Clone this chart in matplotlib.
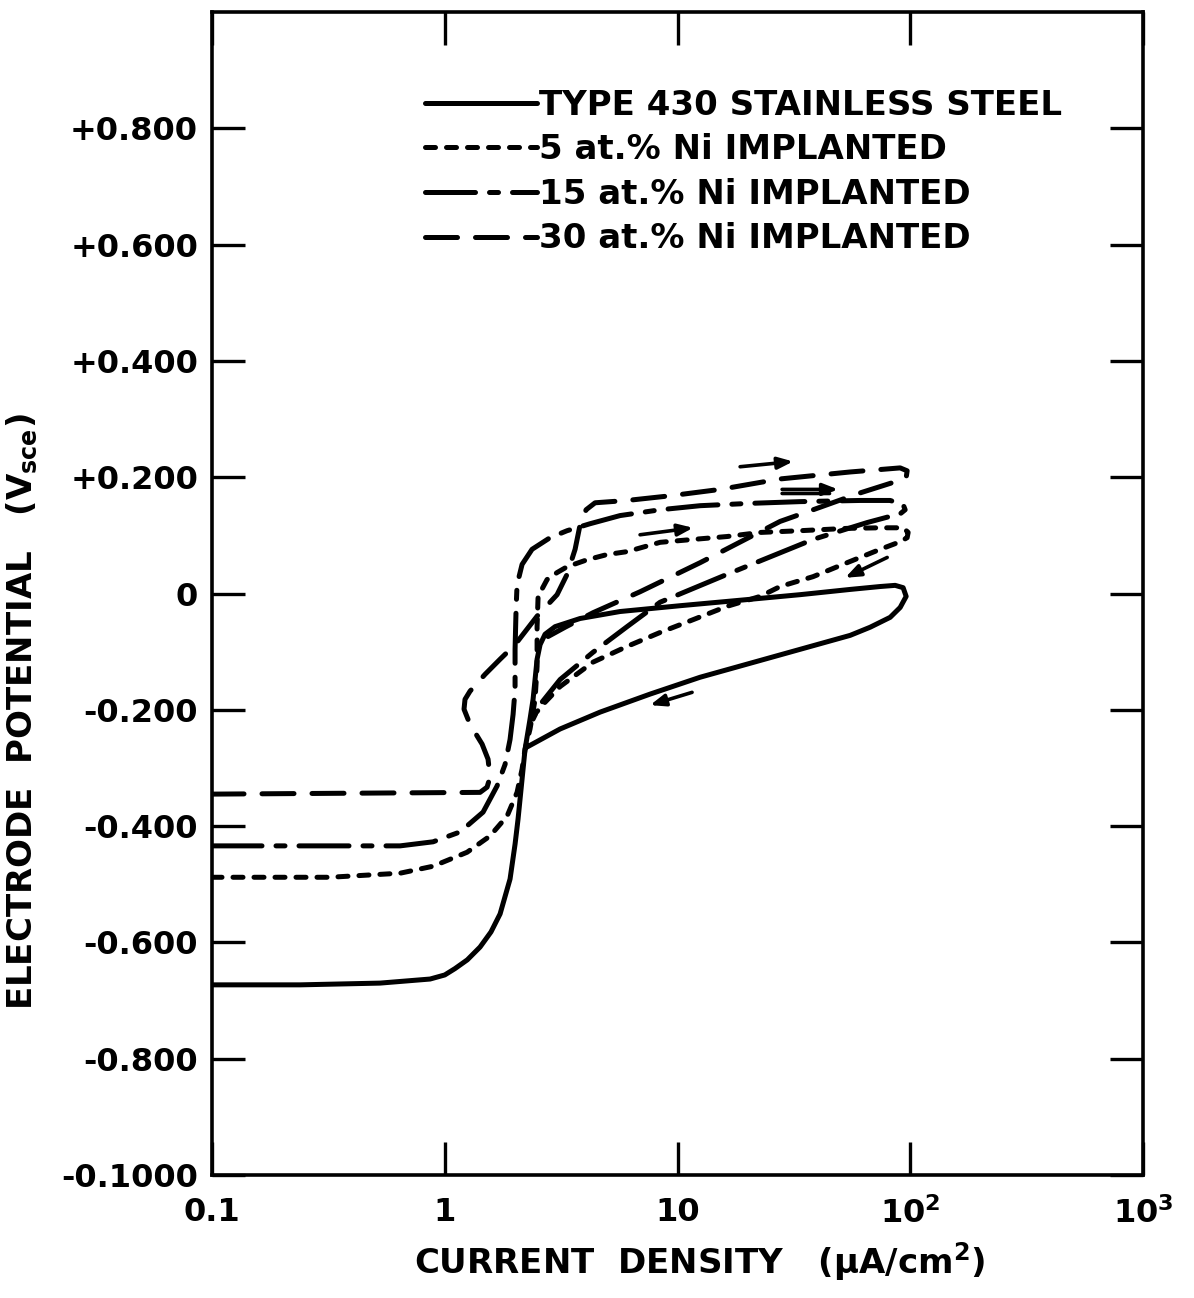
import matplotlib
matplotlib.use("Agg")
import matplotlib.pyplot as plt
from matplotlib.ticker import NullLocator

plt.rcParams['font.family'] = ['DejaVu Sans']
plt.rcParams['font.weight'] = 'bold'
plt.rcParams['axes.labelweight'] = 'bold'
plt.rcParams['mathtext.fontset'] = 'custom'
plt.rcParams['mathtext.rm'] = 'DejaVu Sans:bold'
plt.rcParams['mathtext.bf'] = 'DejaVu Sans:bold'
plt.rcParams['mathtext.default'] = 'bf'

# ---------------- data (current density uA/cm2, potential V_sce) ----------------
ss430_i = [0.1, 0.239, 0.527, 0.865, 1.0, 1.107, 1.25, 1.418, 1.58, 1.729, 1.908, 2.005, 2.065, 2.149,
           2.213, 2.325, 2.396, 2.493, 2.568, 2.698, 2.979, 3.814, 5.665, 10.26, 20.51,
           33.64, 55.18, 74.27, 86.13, 93.22, 96.03, 90.50, 81.97, 67.25, 55.18, 33.64,
           20.51, 12.51, 7.624, 4.649, 3.130, 2.257]
ss430_v = [-0.673, -0.673, -0.670, -0.663, -0.656, -0.645, -0.630, -0.608, -0.582, -0.551, -0.491, -0.431, -0.388, -0.319,
           -0.268, -0.216, -0.182, -0.113, -0.088, -0.070, -0.057, -0.043, -0.031, -0.021, -0.010,
           -0.002, 0.007, 0.012, 0.014, 0.010, -0.005, -0.024, -0.041, -0.058, -0.072, -0.096,
           -0.120, -0.144, -0.173, -0.204, -0.233, -0.264]

ni5_i = [0.1, 0.321, 0.643, 0.891, 1.247, 1.565, 1.852, 2.045, 2.149, 2.213, 2.325, 2.444,
         2.493, 2.493, 2.518, 2.752, 3.038, 3.355, 4.088, 4.983, 6.072, 8.420, 11.67, 16.34,
         22.65, 33.64, 53.57, 74.27, 93.22, 97.95, 96.97, 90.50, 74.27, 53.57, 38.25, 27.61,
         22.65, 16.34, 11.67, 8.420, 6.072, 4.338, 3.130, 2.698, 2.396]
ni5_v = [-0.488, -0.488, -0.481, -0.469, -0.445, -0.417, -0.383, -0.342, -0.302, -0.268, -0.233, -0.182,
         -0.125, -0.057, -0.005, 0.024, 0.036, 0.046, 0.058, 0.067, 0.072, 0.088, 0.093, 0.098,
         0.105, 0.108, 0.112, 0.113, 0.113, 0.105, 0.096, 0.089, 0.076, 0.053, 0.029, 0.012,
         -0.005, -0.022, -0.045, -0.067, -0.091, -0.118, -0.160, -0.187, -0.211]

ni15_i = [0.1, 0.643, 0.891, 1.164, 1.461, 1.678, 1.816, 1.908, 1.966, 2.005, 2.005, 2.025,
          2.045, 2.149, 2.372, 2.835, 3.355, 4.211, 5.665, 8.420, 12.51, 20.51, 33.64, 60.92,
          81.97, 93.22, 95.08, 90.50, 84.45, 65.28, 38.25, 27.61, 16.34, 8.420, 6.072, 4.338,
          3.130, 2.568, 2.396]
ni15_v = [-0.434, -0.434, -0.427, -0.410, -0.376, -0.331, -0.294, -0.251, -0.208, -0.165, -0.096, -0.027,
          0.015, 0.050, 0.076, 0.096, 0.108, 0.120, 0.134, 0.144, 0.151, 0.155, 0.158, 0.160,
          0.160, 0.153, 0.144, 0.137, 0.134, 0.122, 0.093, 0.070, 0.033, -0.015, -0.057, -0.101,
          -0.148, -0.191, -0.216]

ni30_i = [0.1, 1.418, 1.520, 1.565, 1.535, 1.447, 1.284, 1.210, 1.222, 1.284, 1.490, 1.729,
          2.005, 2.493, 3.038, 3.355, 3.631, 3.814, 4.048, 4.425, 6.072, 9.294, 15.24, 27.61,
          55.18, 90.50, 96.97, 96.03, 84.45, 60.92, 38.25, 27.61, 12.51, 6.906, 4.338, 3.289, 2.779]
ni30_v = [-0.345, -0.342, -0.333, -0.316, -0.285, -0.259, -0.225, -0.199, -0.182, -0.168, -0.139, -0.113,
          -0.088, -0.039, -0.002, 0.033, 0.076, 0.118, 0.144, 0.156, 0.160, 0.168, 0.179, 0.197,
          0.209, 0.216, 0.211, 0.199, 0.191, 0.173, 0.144, 0.124, 0.053, 0.003, -0.033, -0.058, -0.074]

labels = ["TYPE 430 STAINLESS STEEL", "5 at.% Ni IMPLANTED",
          "15 at.% Ni IMPLANTED", "30 at.% Ni IMPLANTED"]

y_ticks = [-1.0, -0.8, -0.6, -0.4, -0.2, 0.0, 0.2, 0.4, 0.6, 0.8]
y_ticklabels = ["-0.1000", "-0.800", "-0.600", "-0.400", "-0.200", "0",
                "+0.200", "+0.400", "+0.600", "+0.800"]
x_ticks = [0.1, 1, 10, 100, 1000]
x_ticklabels = ["0.1", "1", "10", r"$10^{2}$", r"$10^{3}$"]

# arrows: (tail_i, tail_v, head_i, head_v)
arrows = [(18.58, 0.218, 31.40, 0.227),
          (28.15, 0.179, 49.0, 0.179),
          (6.906, 0.101, 11.67, 0.113),
          (79.6, 0.062, 52.52, 0.027),
          (11.55, -0.170, 7.624, -0.192)]

# ---------------- figure ----------------
fig = plt.figure(figsize=(11.94, 12.98), dpi=100)
ax = fig.add_axes([212/1194, 1-1175/1298, 931/1194, 1163/1298])
ax.set_xscale('log')
ax.set_xlim(0.1, 1000)
ax.set_ylim(-1.0, 1.0)

lw = 3.6
common = dict(color='black', lw=lw, solid_capstyle='round', dash_capstyle='round',
              solid_joinstyle='round', dash_joinstyle='round')
l1, = ax.plot(ss430_i, ss430_v, ls='-', **common)
l2, = ax.plot(ni5_i, ni5_v, ls=(0, (2.0, 2.2)), **common)
l3, = ax.plot(ni15_i, ni15_v, ls=(0, (10, 2.8, 1.8, 2.8)), **common)
l4, = ax.plot(ni30_i, ni30_v, ls=(0, (6.4, 3.6)), **common)

for (ti, tv, hi, hv) in arrows:
    ax.annotate('', xy=(hi, hv), xytext=(ti, tv),
                arrowprops=dict(arrowstyle='-|>,head_length=0.9,head_width=0.35',
                                color='black', lw=2.6, shrinkA=0, shrinkB=0))
# second shaft of the double arrow
ax.annotate('', xy=(45.0, 0.172), xytext=(28.15, 0.172),
            arrowprops=dict(arrowstyle='-', color='black', lw=2.6, shrinkA=0, shrinkB=0))

ax.set_yticks(y_ticks)
ax.set_yticklabels(y_ticklabels)
ax.set_xticks(x_ticks)
ax.set_xticklabels(x_ticklabels)
ax.xaxis.set_minor_locator(NullLocator())
ax.tick_params(direction='in', length=24, width=2.4, top=True, right=True,
               labelsize=23, pad=10)
ax.tick_params(axis='x', pad=16)
for s in ax.spines.values():
    s.set_linewidth(2.6)

ax.set_xlabel(r"CURRENT  DENSITY   ($\mu$A/cm$^{2}$)", fontsize=24.5, fontweight='bold')
ax.xaxis.set_label_coords((700 - 212) / 931, -(1262 - 1175) / 1163)
ax.set_ylabel(r"ELECTRODE  POTENTIAL   (V$_{sce}$)", fontsize=24.5, fontweight='bold')
ax.yaxis.set_label_coords(-(212 - 22) / 931, (1175 - 712) / 1163)
ax.xaxis.label.set_va('center')
ax.yaxis.label.set_va('center')

leg = ax.legend([l1, l2, l3, l4], labels, loc='upper left',
                bbox_to_anchor=(0.2288, 0.934), frameon=False,
                prop={'size': 24.5, 'weight': 'bold'},
                handlelength=3.3, handletextpad=0.05, labelspacing=0.34,
                borderpad=0, borderaxespad=0)

fig.savefig("out.png", dpi=100, facecolor='white')
